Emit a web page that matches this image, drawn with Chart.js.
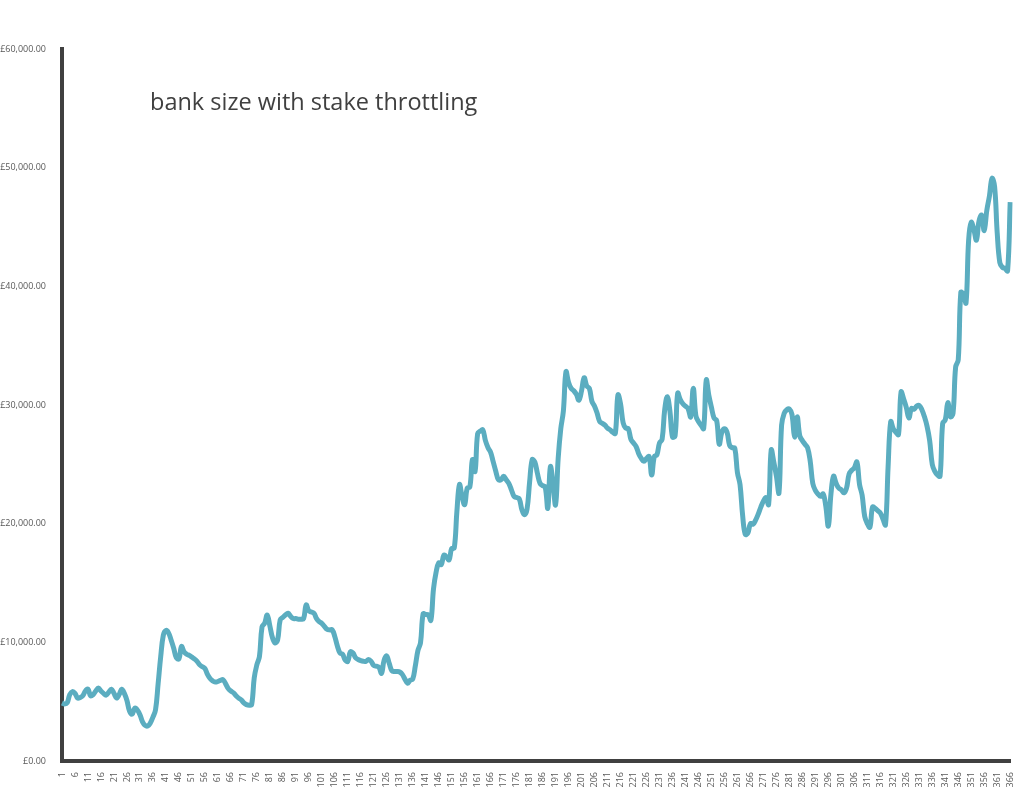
<!DOCTYPE html>
<html lang="en">
<head>
  <meta charset="UTF-8">
  <title>bank size with stake throttling</title>
  <script src="https://cdn.jsdelivr.net/npm/chart.js"></script>
  <style>
    body { margin: 0; background: #fff; }
    #wrap { position: relative; width: 1024px; height: 790px; }
    #title {
      position: absolute; left: 150px; top: 85px;
      font-family: "Open Sans", sans-serif; font-size: 23.5px; color: #404040;
    }
  </style>
</head>
<body>

<div id="wrap">
  <canvas id="bankChart" width="1024" height="790"></canvas>
  <div id="title">bank size with stake throttling</div>
</div>

<script>
  // day numbers 1..366
  const days = Array.from({ length: 366 }, (_, i) => String(i + 1));

  // bank size per day
  const bank = [
    4900, 4800, 4900, 5600, 5850, 5700, 5300, 5350, 5500, 5900,
    6050, 5500, 5600, 5900, 6150, 5900, 5700, 5550, 5800, 6050,
    5700, 5300, 5600, 6050, 5700, 5100, 4200, 3950, 4450, 4300,
    3900, 3300, 3000, 2950, 3200, 3700, 4300, 6500, 8800, 10600,
    11000, 10800, 10200, 9500, 8700, 8600, 9650, 9200, 9000, 8900,
    8750, 8600, 8400, 8100, 7950, 7800, 7300, 6950, 6750, 6650,
    6700, 6800, 6850, 6500, 6100, 5900, 5750, 5500, 5300, 5150,
    4900, 4750, 4700, 4750, 7000, 8100, 8800, 11300, 11600, 12300,
    11400, 10400, 9950, 10200, 11900, 12100, 12300, 12450, 12200, 12000,
    12000, 11950, 11950, 12000, 13150, 12650, 12550, 12450, 12000, 11750,
    11600, 11350, 11100, 11050, 11050, 10500, 9700, 9100, 9000, 8500,
    8400, 9200, 9100, 8700, 8550, 8450, 8400, 8400, 8550, 8400,
    8050, 8000, 7900, 7400, 8500, 8850, 8200, 7600, 7550, 7550,
    7500, 7300, 6900, 6550, 6800, 6900, 8000, 9300, 9950, 12400,
    12350, 12300, 11850, 14500, 15900, 16700, 16550, 17350, 17200, 16950,
    17900, 17950, 21000, 23300, 22300, 21600, 23000, 23100, 25400, 24400,
    27600, 27800, 27900, 27000, 26400, 26000, 25200, 24400, 23700, 23700,
    24000, 23700, 23400, 22850, 22300, 22200, 22100, 21200, 20750, 21200,
    23500, 25400, 25200, 24250, 23400, 23200, 23100, 21300, 24800, 23400,
    21600, 25500, 28000, 29500, 32800, 31900, 31400, 31200, 30900, 30400,
    31200, 32300, 31600, 31400, 30300, 29900, 29300, 28600, 28450, 28300,
    28050, 27900, 27700, 27600, 30850, 30100, 28500, 28050, 28000, 27100,
    26800, 26500, 25900, 25500, 25250, 25500, 25650, 24100, 25650, 25800,
    26800, 27100, 29600, 30700, 29500, 27300, 27400, 31000, 30450, 30100,
    29900, 29700, 29000, 31400, 29100, 28600, 28300, 28000, 32100, 30800,
    29800, 28900, 28700, 26700, 27700, 28000, 27700, 26600, 26400, 26350,
    24300, 23300, 20700, 19100, 19200, 20000, 19950, 20300, 20800, 21400,
    21900, 22200, 21600, 26200, 25200, 24000, 22600, 28300, 29300, 29600,
    29650, 29200, 27300, 29000, 27400, 27000, 26700, 26400, 25300, 23400,
    22800, 22500, 22300, 22500, 21500, 19800, 22500, 24000, 23400, 23000,
    22850, 22600, 23000, 24200, 24500, 24700, 25200, 23300, 22400, 20600,
    20000, 19700, 21400, 21300, 21100, 20900, 20400, 19900, 24800, 28600,
    28000, 27700, 27500, 31100, 30500, 29800, 28900, 29700, 29650, 29900,
    29950, 29600, 29000, 28200, 27000, 25000, 24400, 24100, 24000, 28450,
    28750, 30200, 29000, 29300, 33200, 33800, 39500, 39300, 38600, 43900,
    45400, 44800, 43900, 45500, 46000, 44700, 46400, 47600, 49100, 48400,
    44500, 42000, 41600, 41500, 41300, 47100
  ];

  const yTicks = [0, 10000, 20000, 30000, 40000, 50000, 60000];

  const ctx = document.getElementById('bankChart').getContext('2d');

  new Chart(ctx, {
    type: 'line',
    data: {
      labels: days,
      datasets: [{
        label: 'bank size',
        data: bank,
        borderColor: '#5badc0',
        borderWidth: 5,
        pointRadius: 0,
        tension: 0.4,
        fill: false
      }]
    },
    options: {
      responsive: false,
      animation: false,
      layout: { padding: { top: 49, right: 13, left: 0, bottom: 0 } },
      plugins: { legend: { display: false }, tooltip: { enabled: false } },
      scales: {
        x: {
          offset: false,
          grid: { display: false },
          border: { color: '#404040', width: 4 },
          ticks: {
            autoSkip: false,
            minRotation: 90,
            maxRotation: 90,
            padding: 3,
            color: '#595959',
            font: { family: 'Open Sans', size: 9 },
            callback: (v, i) => (i % 5 === 0 ? days[i] : '')
          },
          afterFit: s => { s.height = 29; }
        },
        y: {
          min: 0,
          max: 60000,
          afterBuildTicks: s => { s.ticks = yTicks.map(v => ({ value: v })); },
          grid: { display: false },
          border: { color: '#404040', width: 4 },
          ticks: {
            padding: 8,
            color: '#595959',
            font: { family: 'Open Sans', size: 9 },
            callback: v => '£' + v.toLocaleString('en-GB', { minimumFractionDigits: 2, maximumFractionDigits: 2 })
          },
          afterFit: s => { s.width = 62; }
        }
      }
    }
  });
</script>

</body>
</html>
